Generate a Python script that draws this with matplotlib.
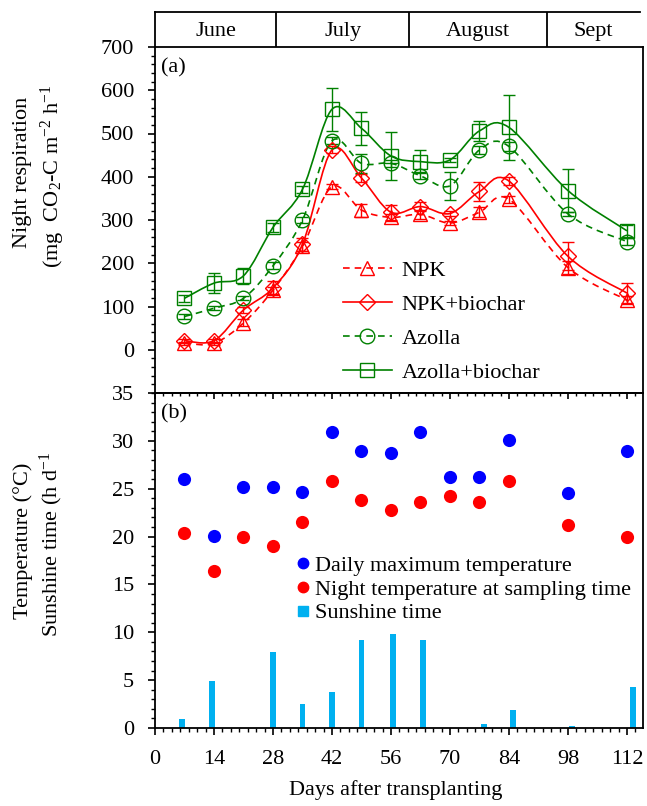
import numpy as np
import matplotlib
matplotlib.use("Agg")
import matplotlib.pyplot as plt
from matplotlib.path import Path
from matplotlib.patches import PathPatch
from matplotlib.lines import Line2D
from matplotlib.ticker import MultipleLocator, FixedLocator

plt.rcParams['font.family'] = ['Liberation Serif', 'DejaVu Serif']
plt.rcParams['mathtext.fontset'] = 'custom'
plt.rcParams['mathtext.rm'] = 'Liberation Serif'
plt.rcParams['mathtext.it'] = 'Liberation Serif:italic'
FS = 16

# ---------------- data ----------------
days = [7, 14, 21, 28, 35, 42, 49, 56, 63, 70, 77, 84, 98, 112]
npk = [15, 15, 62, 138, 239, 377, 323, 306, 313, 293, 318, 348, 190, 115]
npk_err = [3, 3, 8, 8, 10, 6, 15, 8, 10, 5, 12, 8, 15, 10]
npk_bc = [21, 21, 92, 143, 244, 462, 397, 318, 331, 315, 366, 390, 216, 131]
npk_bc_err = [5, 5, 8, 17, 15, 8, 10, 17, 10, 5, 23, 10, 32, 24]
azolla = [77, 96, 119, 194, 300, 483, 431, 431, 402, 379, 462, 470, 314, 250]
azolla_err = [5, 5, 5, 8, 8, 8, 22, 8, 8, 33, 10, 10, 5, 8]
azolla_bc = [119, 154, 171, 283, 371, 556, 512, 448, 435, 439, 506, 514, 368, 275]
azolla_bc_err = [8, 23, 18, 10, 8, 50, 38, 56, 27, 5, 23, 75, 49, 14]

tmax = [26.0, 20.1, 25.2, 25.2, 24.7, 30.9, 28.9, 28.7, 30.9, 26.2, 26.2, 30.1, 24.6, 28.9]
tnight = [20.4, 16.4, 20.0, 19.0, 21.5, 25.8, 23.8, 22.8, 23.6, 24.2, 23.6, 25.8, 21.2, 20.0]

sun_days = [6.5, 13.5, 28, 35, 42, 49, 56.5, 63.5, 78, 85, 99, 113.5]
sun = [0.9, 4.9, 7.9, 2.5, 3.8, 9.2, 9.8, 9.2, 0.4, 1.9, 0.2, 4.3]

months = ['June', 'July', 'August', 'Sept']
month_edges = [0, 28.8, 60.3, 93, 115]

xticks = [0, 14, 28, 42, 56, 70, 84, 98, 112]
yticks_a = [0, 100, 200, 300, 400, 500, 600, 700]
yticks_b = [0, 5, 10, 15, 20, 25, 30, 35]

RED = '#FF0000'
GREEN = '#008000'
XMAX = 115.8

def smooth_path(x, y):
    pts = np.column_stack([np.asarray(x, float), np.asarray(y, float)])
    n = len(pts)
    verts = [pts[0]]
    codes = [Path.MOVETO]
    for i in range(n - 1):
        p0 = pts[i - 1] if i > 0 else pts[i]
        p1 = pts[i]
        p2 = pts[i + 1]
        p3 = pts[i + 2] if i + 2 < n else pts[i + 1]
        c1 = p1 + (p2 - p0) / 6.0
        c2 = p2 - (p3 - p1) / 6.0
        verts += [c1, c2, p2]
        codes += [Path.CURVE4] * 3
    return Path(verts, codes)

W, H = 647, 806
fig = plt.figure(figsize=(W / 100, H / 100), dpi=100)

def fx(px):
    return px / W

def fy(py):
    return 1 - py / H

L, R = 155, 643
axm = fig.add_axes([fx(L), fy(47), fx(R) - fx(L), fy(12) - fy(47)])
axa = fig.add_axes([fx(L), fy(393), fx(R) - fx(L), fy(47) - fy(393)])
axb = fig.add_axes([fx(L), fy(728), fx(R) - fx(L), fy(393) - fy(728)])

LW_SP = 1.3

# ---- month bar ----
axm.set_xlim(0, XMAX)
axm.set_ylim(0, 1)
for s in ['right', 'bottom', 'top']:
    axm.spines[s].set_visible(False)
axm.spines['left'].set_linewidth(LW_SP)
axm.plot([month_edges[0], month_edges[-1]], [1, 1], color='black', lw=LW_SP, clip_on=False)
for e in month_edges[1:-1]:
    axm.axvline(e, color='black', lw=LW_SP)
for i, m in enumerate(months):
    axm.text((month_edges[i] + month_edges[i + 1]) / 2, 0.45, m, ha='center', va='center', fontsize=FS)
axm.set_xticks([])
axm.set_yticks([])

# ---- panel (a) ----
series = [
    (npk, npk_err, RED, '^', (0, (4, 3)), 'NPK'),
    (npk_bc, npk_bc_err, RED, 'D', '-', 'NPK+biochar'),
    (azolla, azolla_err, GREEN, 'o', (0, (4, 3)), 'Azolla'),
    (azolla_bc, azolla_bc_err, GREEN, 's', '-', 'Azolla+biochar'),
]
handles = []
for vals, err, c, mk, ls, lab in series:
    patch = PathPatch(smooth_path(days, vals), fill=False, edgecolor=c, lw=1.2, linestyle=ls)
    axa.add_patch(patch)
    ms = 8 if mk == 'D' else 10.5
    axa.errorbar(days, vals, yerr=err, fmt=mk, mfc='none', mec=c, ms=ms, mew=1.0,
                 ecolor=c, elinewidth=1.0, capsize=4, capthick=1.0, linestyle='none')
    handles.append(Line2D([0], [0], color=c, lw=1.2, linestyle=ls, marker=mk,
                          mfc='none', mec=c, ms=ms, mew=1.0, label=lab))

axa.set_xlim(0, XMAX)
axa.set_ylim(-100, 700)
axa.yaxis.set_major_locator(FixedLocator(yticks_a))
axa.yaxis.set_minor_locator(MultipleLocator(20))
axa.set_xticks([])
axa.tick_params(axis='y', which='major', direction='out', length=5, width=1.2, labelsize=FS, pad=10)
axa.tick_params(axis='y', which='minor', direction='out', length=3, width=1.0)
for s in axa.spines.values():
    s.set_linewidth(LW_SP)
axa.text(0.012, 0.94, '(a)', transform=axa.transAxes, fontsize=FS, ha='left', va='center')
axa.legend(handles=handles, loc='upper left', bbox_to_anchor=(0.385, 0.3835),
           frameon=False, fontsize=FS, handlelength=2.2, handletextpad=0.45,
           labelspacing=0.6, borderpad=0, borderaxespad=0)

# ---- panel (b) ----
axb.bar(sun_days, sun, width=1.4, color='#00B0F0', zorder=2)
axb.scatter(days, tmax, s=90, color='#0000FF', zorder=3, linewidths=0)
axb.scatter(days, tnight, s=90, color='#FF0000', zorder=3, linewidths=0)
axb.set_xlim(0, XMAX)
axb.set_ylim(0, 35)
axb.xaxis.set_major_locator(FixedLocator(xticks))
axb.xaxis.set_minor_locator(MultipleLocator(2))
axb.yaxis.set_major_locator(FixedLocator(yticks_b))
axb.yaxis.set_minor_locator(MultipleLocator(1))
axb.tick_params(axis='both', which='major', direction='out', length=5, width=1.2, labelsize=FS)
axb.tick_params(axis='both', which='minor', direction='out', length=3, width=1.0)
axb.tick_params(axis='y', which='major', pad=10)
axb.tick_params(axis='x', which='major', pad=11)
for s in axb.spines.values():
    s.set_linewidth(LW_SP)
# inward ticks on top edge of panel (b)
axb_top = axb.secondary_xaxis('top')
axb_top.xaxis.set_major_locator(FixedLocator(xticks))
axb_top.xaxis.set_minor_locator(MultipleLocator(2))
axb_top.tick_params(axis='x', which='major', direction='in', length=4, width=1.2, labeltop=False)
axb_top.tick_params(axis='x', which='minor', direction='in', length=2.5, width=1.0)
axb_top.spines['top'].set_linewidth(LW_SP)
axb.tick_params(axis='x', which='both', top=False)
axb.text(0.012, 0.937, '(b)', transform=axb.transAxes, fontsize=FS, ha='left', va='center')

hb = [Line2D([0], [0], linestyle='none', marker='o', color='#0000FF', ms=7.5, label='Daily maximum temperature'),
      Line2D([0], [0], linestyle='none', marker='o', color='#FF0000', ms=7.5, label='Night temperature at sampling time'),
      Line2D([0], [0], linestyle='none', marker='s', color='#00B0F0', ms=6.5, label='Sunshine time')]
axb.legend(handles=hb, loc='upper left', bbox_to_anchor=(0.291, 0.516), frameon=False,
           fontsize=FS, handlelength=0.55, handletextpad=0.27, labelspacing=0.15,
           borderpad=0, borderaxespad=0)

# ---- axis labels ----
fig.text(fx(23), fy(172), 'Night respiration', rotation=90, ha='center', va='center', fontsize=FS)
fig.text(fx(53), fy(176), r'(mg  CO$_2$-C m$^{\mathrm{-2}}$ h$^{\mathrm{-1}}$', rotation=90,
         ha='center', va='center', fontsize=FS)
fig.text(fx(23), fy(541), 'Temperature (°C)', rotation=90, ha='center', va='center', fontsize=FS)
fig.text(fx(51), fy(544), r'Sunshine time (h d$^{\mathrm{-1}}$', rotation=90,
         ha='center', va='center', fontsize=FS)
fig.text(fx(396), fy(790), 'Days after transplanting', ha='center', va='center', fontsize=FS)

fig.savefig('out.png', dpi=100)
